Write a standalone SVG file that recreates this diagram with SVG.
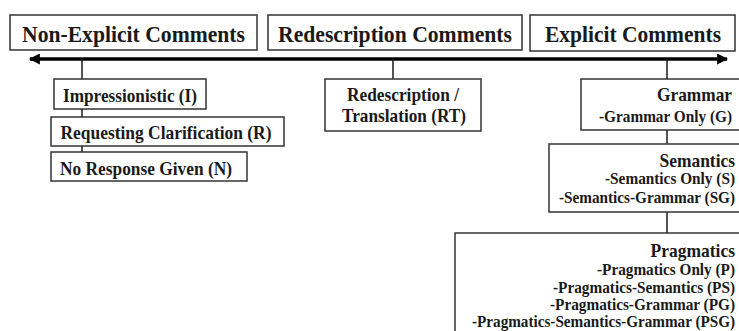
<svg xmlns="http://www.w3.org/2000/svg" width="739" height="331" viewBox="0 0 739 331">
<defs>
<style>
.box{fill:#fff;stroke:#333;stroke-width:1.5}
.t{font-family:"Liberation Serif","Times New Roman",serif;font-weight:bold;fill:#1a1a1a}
.top{font-size:23.5px;text-anchor:middle}
.lb{font-size:19px;text-anchor:middle}
.h{font-size:19px;text-anchor:end}
.it{font-size:16px;text-anchor:end}
.ln{stroke:#1a1a1a;stroke-width:1.5;fill:none}
</style>
<marker id="ah" viewBox="0 0 10 10" refX="9" refY="5" markerWidth="14" markerHeight="11" markerUnits="userSpaceOnUse" orient="auto-start-reverse">
<path d="M0,0 L10,5 L0,10 Z" fill="#000"/>
</marker>
</defs>
<rect width="739" height="331" fill="#fff"/>
<g id="connectors">
<line x1="30" y1="59" x2="727" y2="59" stroke="#000" stroke-width="3.5" marker-start="url(#ah)" marker-end="url(#ah)"/>
<line class="ln" x1="82" y1="59" x2="82" y2="152"/>
<line class="ln" x1="393" y1="59" x2="393" y2="79"/>
<line class="ln" x1="667" y1="59" x2="667" y2="233"/>
</g>
<g id="non-explicit">
<rect class="box" x="10" y="15" width="247" height="35"/>
<text class="t top" x="133.5" y="42" textLength="223" lengthAdjust="spacingAndGlyphs">Non-Explicit Comments</text>
</g>
<g id="redescription">
<rect class="box" x="268" y="15" width="254" height="35"/>
<text class="t top" x="395" y="42" textLength="234" lengthAdjust="spacingAndGlyphs">Redescription Comments</text>
</g>
<g id="explicit">
<rect class="box" x="530" y="15" width="205" height="36"/>
<text class="t top" x="633" y="42" textLength="176" lengthAdjust="spacingAndGlyphs">Explicit Comments</text>
</g>
<g id="impressionistic">
<rect class="box" x="54" y="79" width="152" height="30"/>
<text class="t lb" x="130" y="102" textLength="134" lengthAdjust="spacingAndGlyphs">Impressionistic (I)</text>
</g>
<g id="requesting">
<rect class="box" x="51" y="117" width="233" height="29"/>
<text class="t lb" x="166" y="139" textLength="211" lengthAdjust="spacingAndGlyphs">Requesting Clarification (R)</text>
</g>
<g id="no-response">
<rect class="box" x="51" y="152" width="196" height="29"/>
<text class="t lb" x="146" y="175" textLength="172" lengthAdjust="spacingAndGlyphs">No Response Given (N)</text>
</g>
<g id="rt">
<rect class="box" x="325" y="79" width="156" height="52"/>
<text class="t lb" x="403" y="101" textLength="112" lengthAdjust="spacingAndGlyphs">Redescription /</text>
<text class="t lb" x="404" y="122" textLength="124" lengthAdjust="spacingAndGlyphs">Translation (RT)</text>
</g>
<g id="grammar">
<rect class="box" x="581" y="79" width="170" height="51"/>
<text class="t h" x="732" y="101" textLength="75" lengthAdjust="spacingAndGlyphs">Grammar</text>
<text class="t it" x="732" y="122" textLength="133" lengthAdjust="spacingAndGlyphs">-Grammar Only (G)</text>
</g>
<g id="semantics">
<rect class="box" x="549" y="144" width="200" height="68"/>
<text class="t h" x="735" y="167" textLength="75.5" lengthAdjust="spacingAndGlyphs">Semantics</text>
<text class="t it" x="735" y="184" textLength="130" lengthAdjust="spacingAndGlyphs">-Semantics Only (S)</text>
<text class="t it" x="735" y="203" textLength="176" lengthAdjust="spacingAndGlyphs">-Semantics-Grammar (SG)</text>
</g>
<g id="pragmatics">
<rect class="box" x="455" y="233" width="300" height="110"/>
<text class="t h" x="735" y="257" textLength="84.5" lengthAdjust="spacingAndGlyphs">Pragmatics</text>
<text class="t it" x="735" y="275" textLength="138" lengthAdjust="spacingAndGlyphs">-Pragmatics Only (P)</text>
<text class="t it" x="735" y="292.5" textLength="182" lengthAdjust="spacingAndGlyphs">-Pragmatics-Semantics (PS)</text>
<text class="t it" x="735" y="310" textLength="185" lengthAdjust="spacingAndGlyphs">-Pragmatics-Grammar (PG)</text>
<text class="t it" x="735" y="327" textLength="263" lengthAdjust="spacingAndGlyphs">-Pragmatics-Semantics-Grammar (PSG)</text>
</g>
</svg>
